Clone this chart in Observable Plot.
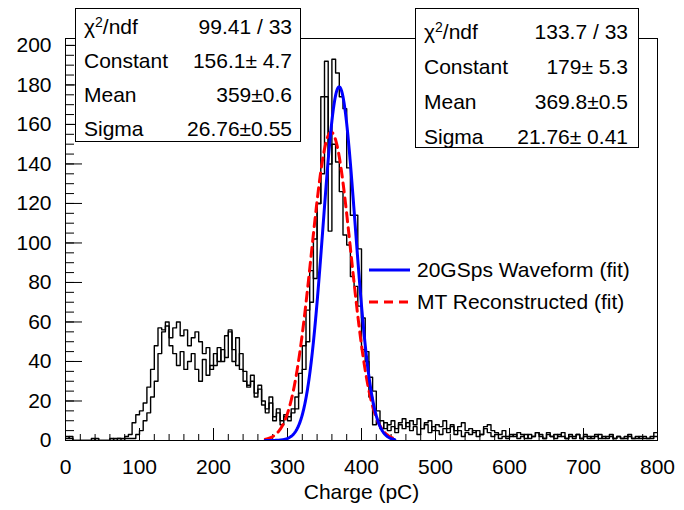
<!DOCTYPE html>
<html><head><meta charset="utf-8">
<script src="https://cdn.jsdelivr.net/npm/d3@7"></script>
<script src="https://cdn.jsdelivr.net/npm/@observablehq/plot@0.6"></script>
<style>
body{margin:0;background:#fff;}
#wrap{position:relative;width:684px;height:510px;font-family:"Liberation Sans",Arial,sans-serif;color:#000;}
#wrap svg.plot{position:absolute;left:0;top:0;}
.stat{position:absolute;border:1px solid #000;background:#fff;box-sizing:border-box;}
.row{position:absolute;height:24px;margin-top:-12px;display:flex;justify-content:space-between;align-items:center;font-size:21px;line-height:1;}
.row sup{font-size:14px;vertical-align:7px;line-height:0;}
.leg{position:absolute;display:flex;align-items:center;font-size:21px;line-height:1;}
.leg svg{margin-right:7px;}
</style></head>
<body><div id="wrap"></div>
<script>
// ---- data ----
const binWidth = 5;          // pC per bin, bins start at 0
const waveformCounts = [
  1,2,0,0,0,0,0,1,0,0,0,0,1,0,1,1,2,
  3,9,13,15,19,27,36,48,57,56,60,48,44,38,45,36,40,44,36,30,41,33,38,44,40,46,42,55,40,52,36,30,27,33,22,26,18,14,19,10,14,8,12,
  10,14,16,24,36,50,70,102,120,174,192,140,193,186,174,168,138,114,114,97,46,45,22,8,10,6,9,5,
  7,4,8,6,9,5,7,3,6,8, 4,7,5,3,6,4,7,3,5,2, 4,3,5,2,3,6,4,2,3,1, 2,1,2,3,1,2,3,1,2,4,
  2,1,3,2,1,3,2,1,2,1, 3,1,2,1,2,3,1,2,1,2, 1,2,1,1,2,1,1,2,1,1, 1,4
];
const mtCounts = [
  2,1,0,0,0,0,0,0,1,0,0,0,0,1,1,0,1,1,
  1,3,5,10,14,22,30,44,55,58,52,57,60,53,56,48,52,55,50,44,47,36,38,47,40,53,56,46,38,44,35,28,30,24,28,20,16,22,12,16,10,13,
  12,16,22,34,48,66,86,82,120,135,174,106,150,141,126,104,99,83,78,68,62,40,32,25,15,10,6,8,
  10,6,9,11,7,10,8,11,6,9, 10,5,8,7,10,6,8,5,7,9, 5,6,4,5,3,7,8,5,4,3, 5,2,3,2,4,3,1,3,2,4,
  3,1,4,2,3,2,4,1,3,2, 3,1,3,2,1,2,3,1,2,3, 1,2,1,2,3,1,2,1,2,1, 2,2
];
const fitNames    = ["20GSps Waveform (fit)", "MT Reconstructed (fit)"];
const fitChi2     = ["133.7 / 33", "99.41 / 33"];
const fitConstant = [179, 156.1];
const fitConstErr = ["179\u00b1 5.3", "156.1\u00b1 4.7"];
const fitMean     = [369.8, 359];
const fitMeanTxt  = ["369.8\u00b10.5", "359\u00b10.6"];
const fitSigma    = [21.76, 26.76];
const fitSigmaTxt = ["21.76\u00b1 0.41", "26.76\u00b10.55"];
const fitRange    = [270, 445];
const xTicks = [0,100,200,300,400,500,600,700,800];
const xMinor = d3.range(0, 801, 20);
const yTicks = [0,20,40,60,80,100,120,140,160,180,200];
const yMinor = d3.range(0, 201, 5);
const xLabel = "Charge (pC)";

// ---- build ----
function steps(counts){
  const pts = counts.map((c,i)=>({x:i*binWidth, y:c}));
  pts.push({x:counts.length*binWidth, y:counts[counts.length-1]});
  return pts;
}
function fitCurve(k){
  return d3.range(fitRange[0], fitRange[1]+0.01, 0.5).map(x=>({x, y: fitConstant[k]*Math.exp(-0.5*((x-fitMean[k])/fitSigma[k])**2)}));
}
const W=684, H=510, mL=65, mR=27, mT=38, mB=70;
const pw = W-mL-mR, ph = H-mT-mB;
const fitColors = ["#0000ff", "#ff0000"];
const fitDash = [null, "9,6"];

const chart = Plot.plot({
  width: W, height: H, marginLeft: mL, marginRight: mR, marginTop: mT, marginBottom: mB,
  x: {domain:[0,800]}, y: {domain:[0,203.5]},
  style: {fontFamily:"Liberation Sans, Arial, sans-serif", fontSize:"21px", background:"#fff", color:"#000"},
  marks: [
    Plot.axisX({ticks: xTicks, tickSize: 0, tickPadding: 19, label: null, fontSize: 21}),
    Plot.axisY({ticks: yTicks, tickSize: 0, tickPadding: 14, label: null, fontSize: 21}),
    Plot.tickX(xMinor, {x: d=>d, insetTop: ph-6, stroke:"#000"}),
    Plot.tickX(xTicks, {x: d=>d, insetTop: ph-12, stroke:"#000"}),
    Plot.tickY(yMinor, {y: d=>d, insetRight: pw-9, stroke:"#000"}),
    Plot.tickY(yTicks, {y: d=>d, insetRight: pw-17, stroke:"#000"}),
    Plot.line(steps(mtCounts), {x:"x", y:"y", curve:"step-after", stroke:"#000", strokeWidth:1.4, clip:true}),
    Plot.line(steps(waveformCounts), {x:"x", y:"y", curve:"step-after", stroke:"#000", strokeWidth:1.4, clip:true}),
    Plot.line(fitCurve(1), {x:"x", y:"y", stroke:fitColors[1], strokeWidth:3, strokeDasharray:fitDash[1], clip:true}),
    Plot.line(fitCurve(0), {x:"x", y:"y", stroke:fitColors[0], strokeWidth:3, clip:true}),
    Plot.frame({stroke:"#000"}),
    Plot.text([xLabel], {frameAnchor:"bottom", dy:58, fontSize:21})
  ]
});
const wrap = document.getElementById("wrap");
wrap.appendChild(chart);

// stat box: left, top, width, height, text inset left/right, first row centre offset, row step
function statBox(k, left, top, w, h, padL, padR, firstRow, step){
  const d = document.createElement("div");
  d.className = "stat";
  Object.assign(d.style, {left:left+"px", top:top+"px", width:w+"px", height:h+"px"});
  const rows = [["\u03c7<sup>2</sup>/ndf", fitChi2[k]], ["Constant", fitConstErr[k]], ["Mean", fitMeanTxt[k]], ["Sigma", fitSigmaTxt[k]]];
  d.innerHTML = rows.map(([a,b],i)=>`<div class="row" style="left:${padL}px;right:${padR}px;top:${firstRow+i*step}px"><span>${a}</span><span>${b}</span></div>`).join("");
  wrap.appendChild(d);
}
statBox(1, 75, 8, 226, 134, 8, 8, 17, 34.3);
statBox(0, 415, 8, 224, 140, 8, 10, 22, 35);

function legendRow(k, top){
  const d = document.createElement("div");
  d.className = "leg";
  Object.assign(d.style, {left:"369px", top:top+"px"});
  d.innerHTML = `<svg width="41" height="6"><line x1="0" y1="3" x2="41" y2="3" stroke="${fitColors[k]}" stroke-width="3" ${fitDash[k]?`stroke-dasharray="${fitDash[k]}"`:""}/></svg><span>${fitNames[k]}</span>`;
  wrap.appendChild(d);
}
legendRow(0, 259);
legendRow(1, 291);
</script></body></html>
